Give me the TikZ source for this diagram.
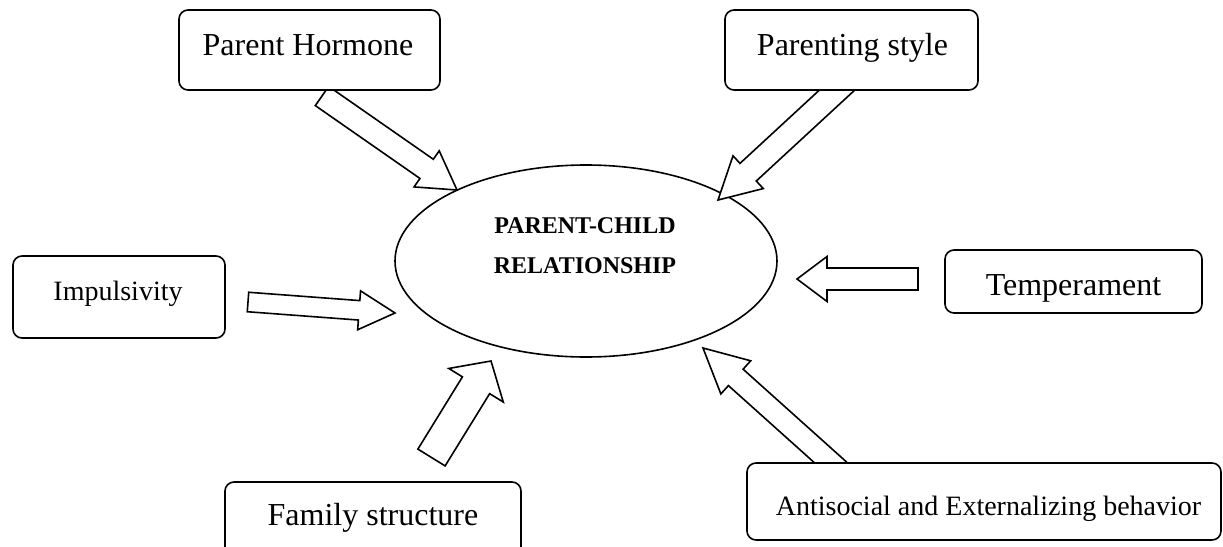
\documentclass[tikz,border=0pt]{standalone}
\usepackage{fontspec}
\setmainfont{Liberation Serif}
\usetikzlibrary{calc,shapes.geometric}
\tikzset{
  box/.style={draw=black, line width=1.6pt, rounded corners=9pt, fill=white, inner sep=0pt},
  lbl/.style={anchor=base, inner sep=0pt, font=\fontsize{32}{38}\selectfont},
  slbl/.style={anchor=base, inner sep=0pt, font=\fontsize{28}{34}\selectfont},
  rlbl/.style={anchor=base, inner sep=0pt, font=\fontsize{24}{29}\selectfont\bfseries},
  blockarr/.style={draw=black, line width=1.6pt, fill=white, line join=miter},
  relshape/.style={ellipse, draw=black, line width=1.6pt, inner sep=0pt}
}
% tail, tip, shaft half width, head half width, head length
\newcommand\blockarrow[5]{%
  \coordinate (#1#2base) at ($(#2)!#5pt!(#1)$);
  \draw[blockarr] ($(#1)!#3pt!90:(#2)$) -- ($(#1#2base)!#3pt!90:(#2)$)
    -- ($(#1#2base)!#4pt!90:(#2)$) -- (#2)
    -- ($(#1#2base)!#4pt!-90:(#2)$) -- ($(#1#2base)!#3pt!-90:(#2)$)
    -- ($(#1)!#3pt!-90:(#2)$) -- cycle;
}
\begin{document}
\begin{tikzpicture}[x=1pt,y=-1pt]
\useasboundingbox (0,0) rectangle (1223,546);
\clip (0,0) rectangle (1223,546);

% central ellipse
\node[relshape, minimum width=382pt, minimum height=192pt] (rel) at (586,261) {};
\node[rlbl] (relA) at (585,233) {PARENT-CHILD};
\node[rlbl] (relB) at (585,273) {RELATIONSHIP};

% arrow end points
\coordinate (imA) at (248,302);   \coordinate (imB) at (395,313);
\coordinate (phA) at (322,96);    \coordinate (phB) at (457,190);
\coordinate (psA) at (848,80);    \coordinate (psB) at (718,200);
\coordinate (tmA) at (918,279);   \coordinate (tmB) at (797,279);
\coordinate (asA) at (839,470);   \coordinate (asB) at (703,348);
\coordinate (fsA) at (431.5,457.5); \coordinate (fsB) at (491,361);

\blockarrow{imA}{imB}{9.75}{19.5}{36}
\blockarrow{phA}{phB}{11.7}{22}{37}
\blockarrow{psA}{psB}{12}{22.3}{41}
\blockarrow{tmA}{tmB}{11}{22.5}{30}
\blockarrow{asA}{asB}{11}{22.3}{44}
\blockarrow{fsA}{fsB}{16}{32}{28.5}

% boxes
\node[box, minimum width=261pt, minimum height=80pt] (ph) at (309.5,50) {};
\node[lbl] (phT) at (308,55) {Parent Hormone};

\node[box, minimum width=253pt, minimum height=80pt] (ps) at (851.5,50) {};
\node[lbl] (psT) at (852.5,55) {Parenting style};

\node[box, minimum width=212pt, minimum height=82pt] (im) at (119,297) {};
\node[slbl] (imT) at (118,300) {Impulsivity};

\node[box, minimum width=257pt, minimum height=63pt] (tm) at (1073.5,281.5) {};
\node[lbl] (tmT) at (1073.5,295) {Temperament};

\node[box, minimum width=296pt, minimum height=118pt] (fs) at (373,541) {};
\node[lbl] (fsT) at (373,525) {Family structure};

\node[box, minimum width=474pt, minimum height=77pt] (as) at (984,501.5) {};
\node[slbl] (asT) at (988.5,515) {Antisocial and Externalizing behavior};
\end{tikzpicture}
\end{document}
